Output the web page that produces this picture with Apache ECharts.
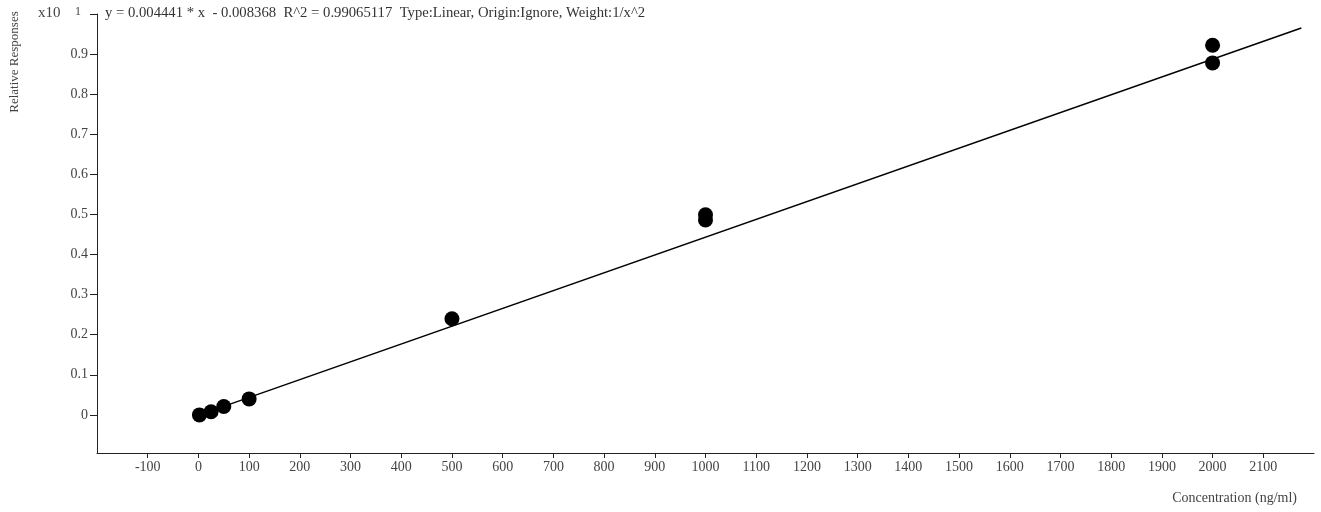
<!DOCTYPE html>
<html>
<head>
<meta charset="utf-8">
<script src="https://cdn.jsdelivr.net/npm/echarts@6/dist/echarts.min.js"></script>
<style>html,body{margin:0;padding:0;background:#fff}#c{width:1321px;height:512px}</style>
</head>
<body>
<div id="c"></div>
<script>
// Data (response values shown in x10 units)
const concentrations = [2, 25, 50, 100, 500, 1000, 1000, 2000, 2000];
const responses = [0.000, 0.008, 0.021, 0.040, 0.240, 0.499, 0.486, 0.922, 0.878];
const fitSlope = 0.004441;      // from printed equation (real units)
const fitIntercept = -0.008368;
const fitRange = [2, 2175];
const scaleFactor = 10;
const xTicks = [-100,0,100,200,300,400,500,600,700,800,900,1000,1100,1200,1300,1400,1500,1600,1700,1800,1900,2000,2100];
const yTicks = [0,0.1,0.2,0.3,0.4,0.5,0.6,0.7,0.8,0.9,1];
const equationText = 'y = 0.004441 * x  - 0.008368  R^2 = 0.99065117  Type:Linear, Origin:Ignore, Weight:1/x^2';

const FONT = '"Liberation Serif", "DejaVu Serif", serif';
const points = concentrations.map((c, i) => [c, responses[i]]);
const fitLine = fitRange.map(x => [x, (fitSlope * x + fitIntercept) / scaleFactor]);

const chart = echarts.init(document.getElementById('c'));
chart.setOption({
  animation: false,
  backgroundColor: '#fff',
  grid: { left: 97, right: 7, top: 14, bottom: 59, containLabel: false },
  xAxis: {
    type: 'value', min: -200, max: 2200,
    axisLine: { show: true, onZero: false, lineStyle: { color: '#222', width: 1 } },
    axisTick: { show: true, length: 5, lineStyle: { color: '#222' }, customValues: xTicks },
    axisLabel: { customValues: xTicks, color: '#444', fontFamily: FONT, fontSize: 14, margin: 7,
      formatter: v => String(v) },
    splitLine: { show: false }
  },
  yAxis: {
    type: 'value', min: -0.095, max: 1,
    axisLine: { show: true, onZero: false, lineStyle: { color: '#222', width: 1 } },
    axisTick: { show: true, length: 7, lineStyle: { color: '#222' }, customValues: yTicks },
    axisLabel: {
      customValues: yTicks, color: '#444', fontFamily: FONT, fontSize: 14, margin: 9,
      formatter: v => (Math.abs(v - 1) < 1e-9 ? '{sup|1}' : String(Math.round(v * 10) / 10)),
      rich: { sup: { fontSize: 12, fontFamily: FONT, color: '#444', padding: [0, 7, 4, 0] } }
    },
    splitLine: { show: false }
  },
  graphic: [
    { type: 'text', left: 38, top: 6, style: { text: 'x10', fontFamily: FONT, fontSize: 15, fill: '#444' } },
    { type: 'text', left: 105, top: 6, style: { text: equationText, fontFamily: FONT, fontSize: 14.7, fill: '#333' } },
    { type: 'text', x: 15, y: 62, rotation: Math.PI / 2,
      style: { text: 'Relative Responses', fontFamily: FONT, fontSize: 13, fill: '#444', align: 'center', verticalAlign: 'middle' } },
    { type: 'text', right: 24, top: 491, style: { text: 'Concentration (ng/ml)', fontFamily: FONT, fontSize: 14, fill: '#444' } }
  ],
  series: [
    { type: 'line', data: fitLine, symbol: 'none', lineStyle: { color: '#000', width: 1.5 }, z: 2 },
    { type: 'scatter', data: points, symbol: 'circle', symbolSize: 15, itemStyle: { color: '#000', opacity: 1 }, z: 3 }
  ]
});
</script>
</body>
</html>
